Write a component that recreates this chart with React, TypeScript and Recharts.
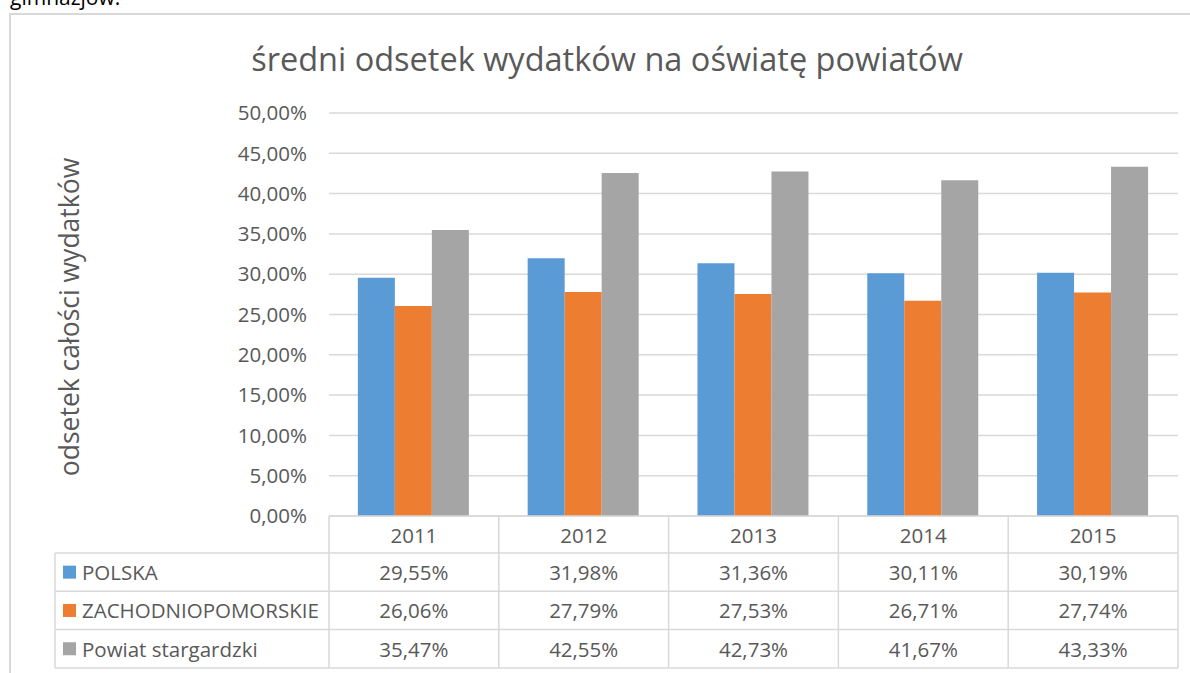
import React from "react";
import { BarChart, Bar, XAxis, YAxis, CartesianGrid } from "recharts";

const years = ["2011", "2012", "2013", "2014", "2015"];
const polska = [29.55, 31.98, 31.36, 30.11, 30.19];
const zachodniopomorskie = [26.06, 27.79, 27.53, 26.71, 27.74];
const powiat = [35.47, 42.55, 42.73, 41.67, 43.33];
const seriesNames = ["POLSKA", "ZACHODNIOPOMORSKIE", "Powiat stargardzki"];
const seriesKeys = ["polska", "zach", "powiat"];
const seriesColors = ["#5B9BD5", "#ED7D31", "#A5A5A5"];
const yTicks = [0, 5, 10, 15, 20, 25, 30, 35, 40, 45, 50];

const data = years.map((year, i) => ({
  year,
  polska: polska[i],
  zach: zachodniopomorskie[i],
  powiat: powiat[i],
}));
const seriesValues = [polska, zachodniopomorskie, powiat];

const W = 1190;
const H = 673;
const FONT = "'Open Sans', sans-serif";
const TEXT = "#595959";
const LINE = "#D9D9D9";
const FS = 20.5;

// plot box
const plotLeft = 329;
const plotRight = 1178;
const plotTop = 113;
const yAxisWidth = 80;
const headerH = 37;
const rowH = 38.3;
const tableH = headerH + rowH * 3;
const xAxisHeight = 152;
const colW = (plotRight - plotLeft) / years.length;
const tableLeft = 55;

const fmt = (v: number) => v.toFixed(2).replace(".", ",") + "%";

function TableTick(props: any) {
  const { x, y, payload } = props;
  const i = payload.index ?? props.index ?? 0;
  const half = colW / 2;
  const left = x - half;
  const right = x + half;
  return (
    <g fontFamily={FONT} fontSize={FS} fill={TEXT}>
      <line x1={right} y1={y} x2={right} y2={y + tableH} stroke={LINE} strokeWidth={1.5} />
      {i === 0 && (
        <g>
          <line x1={left} y1={y} x2={left} y2={y + tableH} stroke={LINE} strokeWidth={1.5} />
          <line x1={tableLeft} y1={y + headerH} x2={tableLeft} y2={y + tableH} stroke={LINE} strokeWidth={1.5} />
          {[0, 1, 2, 3].map((r) => (
            <line
              key={r}
              x1={tableLeft}
              y1={y + headerH + r * rowH}
              x2={left}
              y2={y + headerH + r * rowH}
              stroke={LINE}
              strokeWidth={1.5}
            />
          ))}
          {seriesNames.map((name, r) => {
            const cy = y + headerH + r * rowH + rowH / 2;
            return (
              <g key={name}>
                <rect x={63} y={cy - 6.5} width={13} height={13} fill={seriesColors[r]} />
                <text x={82} y={cy} dominantBaseline="central" fill={TEXT}>
                  {name}
                </text>
              </g>
            );
          })}
        </g>
      )}
      {[0, 1, 2, 3].map((r) => (
        <line
          key={r}
          x1={left}
          y1={y + headerH + r * rowH}
          x2={right}
          y2={y + headerH + r * rowH}
          stroke={LINE}
          strokeWidth={1.5}
        />
      ))}
      <text x={x} y={y + headerH / 2} textAnchor="middle" dominantBaseline="central" fill={TEXT}>
        {payload.value}
      </text>
      {seriesValues.map((vals, r) => (
        <text
          key={r}
          x={x}
          y={y + headerH + r * rowH + rowH / 2}
          textAnchor="middle"
          dominantBaseline="central"
          fill={TEXT}
        >
          {fmt(vals[i])}
        </text>
      ))}
    </g>
  );
}

export default function App() {
  return (
    <div
      style={{
        position: "absolute",
        left: 0,
        top: 0,
        width: W,
        height: H,
        overflow: "hidden",
        background: "#fff",
        fontFamily: FONT,
      }}
    >
      <div
        style={{
          position: "absolute",
          left: 9,
          top: 13,
          width: W + 20,
          height: H + 20,
          border: `2px solid ${LINE}`,
        }}
      />
      <BarChart
        width={W}
        height={H}
        data={data}
        margin={{ top: plotTop, right: W - plotRight, bottom: H - plotTop - 403 - xAxisHeight, left: plotLeft - yAxisWidth }}
        barCategoryGap="17%"
        barGap={0}
      >
        <CartesianGrid vertical={false} stroke={LINE} strokeWidth={1.5} />
        <XAxis
          dataKey="year"
          height={xAxisHeight}
          axisLine={{ stroke: LINE, strokeWidth: 1.5 }}
          tickLine={false}
          tickSize={0}
          tickMargin={0}
          interval={0}
          tick={<TableTick />}
        />
        <YAxis
          width={yAxisWidth}
          domain={[0, 50]}
          ticks={yTicks}
          axisLine={false}
          tickLine={false}
          tickSize={0}
          tickMargin={22}
          tickFormatter={fmt}
          tick={{ fontFamily: FONT, fontSize: FS, fill: TEXT }}
        />
        {seriesKeys.map((k, r) => (
          <Bar key={k} dataKey={k} name={seriesNames[r]} fill={seriesColors[r]} isAnimationActive={false} />
        ))}
      </BarChart>
      <svg
        width={W}
        height={H}
        style={{ position: "absolute", left: 0, top: 0, pointerEvents: "none" }}
      >
        <text x={10} y={5} fontFamily={FONT} fontSize={21} fill="#000">
          gimnazjów.
        </text>
        <text x={607} y={71} textAnchor="middle" fontFamily={FONT} fontSize={32.5} fill={TEXT}>
          średni odsetek wydatków na oświatę powiatów
        </text>
        <text
          x={79}
          y={317}
          textAnchor="middle"
          fontFamily={FONT}
          fontSize={26.5}
          fill={TEXT}
          transform="rotate(-90, 79, 317)"
        >
          odsetek całości wydatków
        </text>
      </svg>
    </div>
  );
}
